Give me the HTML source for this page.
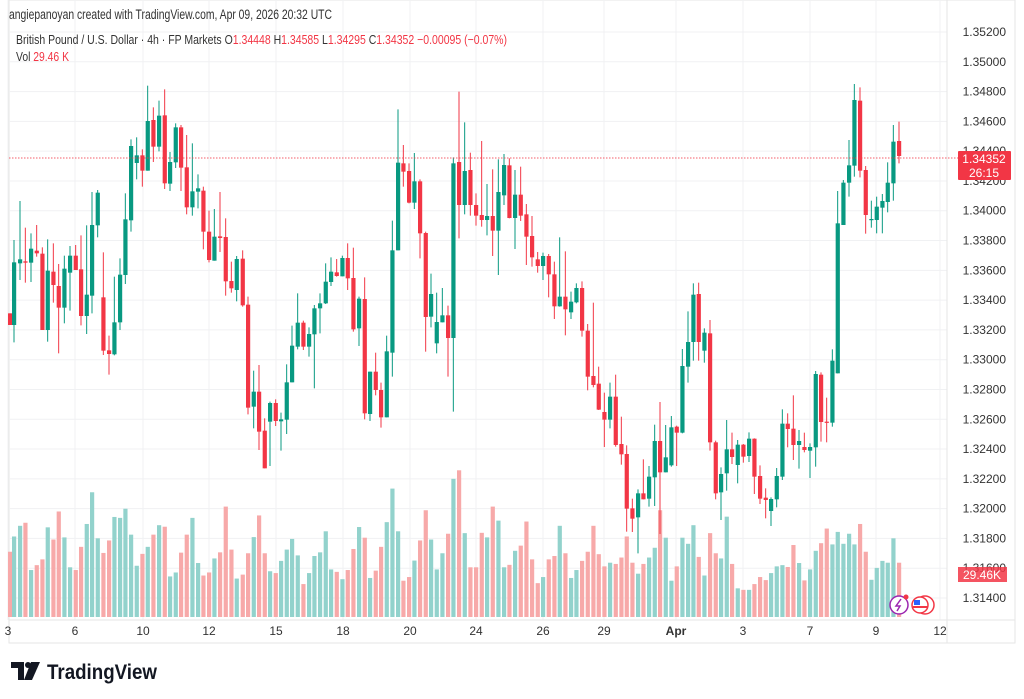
<!DOCTYPE html>
<html><head><meta charset="utf-8"><style>
html,body{margin:0;padding:0;background:#fff;width:1024px;height:699px;overflow:hidden;font-family:"Liberation Sans",sans-serif}
svg{position:absolute;left:0;top:0}
</style></head><body>
<svg id="s" width="1024" height="699" xmlns="http://www.w3.org/2000/svg" font-family="Liberation Sans, sans-serif">
<rect x="9" y="0" width="1006" height="643" fill="none" stroke="#e6e6e6"/>
<g id="grid"></g>
<g id="vol"></g>
<g id="cdl"></g>
<line x1="9" x2="958" y1="158" y2="158" stroke="#f23645" stroke-dasharray="1.5,1.5" stroke-width="1" opacity="0.8"/>
<g id="ax" font-size="12" fill="#333"></g>
<text x="9" y="19" font-size="13.5" fill="#333" textLength="323" lengthAdjust="spacingAndGlyphs">angiepanoyan created with TradingView.com, Apr 09, 2026 20:32 UTC</text>
<text x="16" y="44" font-size="13" fill="#333" textLength="491" lengthAdjust="spacingAndGlyphs">British Pound / U.S. Dollar · 4h · FP Markets  O<tspan fill="#f23645">1.34448</tspan>  H<tspan fill="#f23645">1.34585</tspan>  L<tspan fill="#f23645">1.34295</tspan>  C<tspan fill="#f23645">1.34352  −0.00095 (−0.07%)</tspan></text>
<text x="16" y="61" font-size="13" fill="#333" textLength="53" lengthAdjust="spacingAndGlyphs">Vol  <tspan fill="#f23645">29.46 K</tspan></text>
<rect x="958" y="151" width="53" height="29" fill="#f23645" rx="1"/>
<text x="984" y="163" font-size="12" fill="#fff" text-anchor="middle">1.34352</text>
<text x="984" y="177" font-size="12" fill="#fff" text-anchor="middle">26:15</text>
<rect x="958" y="567" width="49" height="15" fill="#f23645" opacity="0.85"/>
<text x="982" y="579" font-size="12" fill="#fff" text-anchor="middle">29.46K</text>
<circle cx="899" cy="605" r="9" fill="#fff" stroke="#9c27b0" stroke-width="1.5"/>
<path d="M901 599 L896 606 L900 606 L897 611" stroke="#9c27b0" fill="none" stroke-width="1.5"/>
<circle cx="906" cy="597" r="2.5" fill="#f23645"/>
<circle cx="925" cy="605" r="9" fill="#fff" stroke="#f23645" stroke-width="1.5"/>
<circle cx="920" cy="605" r="8" fill="#fff" stroke="#f23645" stroke-width="1.5"/>
<rect x="914" y="600" width="6" height="5" fill="#2962ff"/>
<line x1="913" x2="928" y1="607" y2="607" stroke="#f23645" stroke-width="2"/>
<g transform="translate(11,662)" fill="#131722">
<path d="M0 0 H13 V18 H7 V6 H0 Z"/><circle cx="17" cy="3" r="3"/><path d="M20 0 H29 L21 18 H13 Z"/>
</g>
<text x="47" y="679" font-size="21" font-weight="bold" fill="#131722" textLength="110" lengthAdjust="spacingAndGlyphs">TradingView</text>
</svg>
<script>
var NS="http://www.w3.org/2000/svg";
function el(p,t,a){var e=document.createElementNS(NS,t);for(var k in a)e.setAttribute(k,a[k]);document.getElementById(p).appendChild(e);return e;}
for(var i=0;i<=19;i++){var y=32+i*29.79;el("grid","line",{x1:9,x2:947,y1:y,y2:y,stroke:"#f0f1f3"});
 var p=(1.352-i*0.002).toFixed(5);var t=el("ax","text",{x:1006,y:y+4,"text-anchor":"end"});t.textContent=p;}
var tl=[[8,"3"],[75,"6"],[143,"10"],[209,"12"],[276,"15"],[343,"18"],[410,"20"],[476,"24"],[543,"26"],[604,"29"],[676,"Apr"],[743,"3"],[810,"7"],[876,"9"],[940,"12"]];
tl.forEach(function(a){el("grid","line",{x1:a[0],x2:a[0],y1:0,y2:620,stroke:"#f0f1f3"});var t=el("ax","text",{x:a[0],y:635,"text-anchor":"middle"});t.textContent=a[1];if(a[1]=="Apr")t.setAttribute("font-weight","bold");});
el("grid","line",{x1:947,x2:947,y1:0,y2:643,stroke:"#e6e6e6"});
el("grid","line",{x1:9,x2:1015,y1:620,y2:620,stroke:"#e6e6e6"});
var Z=[
[0,[[30,'r',700,735,700,735,1397],[42,'g',547,735,480,787,1347],[60,'g',538,550,363,600,1312],[76,'r',544,548,443,608,1302],[93,'g',506,548,460,606,1457],[110,'r',512,520,435,530,1441],[127,'r',521,750,502,750,1422],[143,'g',572,750,478,785,1317],[160,'r',575,615,490,668,1357],[176,'r',618,683,552,820,1265],[193,'g',566,683,527,730,1350],[210,'g',527,578,498,692,1448],[227,'r',527,570,495,570,1457],[243,'r',568,708,466,736,1381],[260,'g',644,708,436,762,1306],[276,'g',435,647,336,700,1202],[293,'g',338,436,330,472,1353],[310,'r',652,812,517,825,1401],[327,'r',811,822,767,884,1360],[343,'g',727,823,590,826,1283],[360,'g',584,727,535,750,1286],[376,'g',418,585,340,612,1256],[393,'g',198,421,178,455,1341],[410,'g',226,249,172,298,1443],[427,'r',226,272,208,320,1404],[443,'g',123,272,17,272,1381],[460,'r',120,200,82,246,1341],[477,'g',107,200,62,214,1310],[494,'r',106,310,28,327,1315],[510,'g',246,311,216,333,1478],[527,'g',142,247,130,264,1465],[543,'r',142,263,135,333,1400],[560,'r',262,382,165,403,1341],[577,'g',334,382,190,407,1286],[594,'g',325,335,283,385,1434],[610,'r',332,455,320,508,1475],[627,'r',455,540,392,547,1465],[643,'g',470,542,387,542,1419],[660,'r',469,474,336,516,1399],[677,'r',471,604,415,647,1249],[694,'r',603,625,545,638,1390],[710,'g',537,630,528,664,1485]]],
[230,[[38,'r',536,676,511,680,1472],[54,'r',674,983,650,1003,1402],[71,'g',935,980,872,1045,1349],[87,'r',935,1055,855,1110,1278],[104,'r',1052,1165,1015,1165,1402],[120,'g',969,1025,965,1158,1461],[137,'r',969,1023,958,1038,1467],[153,'g',1018,1024,998,1112,1427],[170,'g',907,1019,853,1062,1390],[186,'g',797,907,737,907,1355],[203,'g',728,800,640,808,1409],[220,'r',728,800,722,810,1503],[237,'g',762,800,742,830,1467],[253,'g',685,763,675,925,1411],[270,'g',670,685,640,760,1399],[287,'g',605,670,550,672,1330],[303,'g',575,606,532,618,1455],[320,'r',577,588,537,590,1463],[337,'g',534,589,527,589,1487],[353,'r',534,595,490,630,1457],[370,'r',594,748,503,755,1388],[387,'g',656,745,650,798,1316],[404,'r',657,1000,592,1018,1351],[420,'g',875,1002,875,1023,1483],[437,'r',875,930,818,946,1459],[453,'r',930,1012,908,1043,1381],[470,'g',814,1012,767,1012,1300],[487,'g',511,818,422,890,1190],[504,'g',248,511,88,511,1330],[520,'r',250,275,195,320,1492],[537,'r',273,368,250,370,1480],[553,'g',304,368,219,387,1426],[570,'r',304,460,298,535,1360],[587,'r',459,711,455,815,1261],[603,'g',642,710,581,742,1357],[620,'g',726,790,638,820,1455],[637,'g',706,727,624,727,1402],[654,'r',706,774,677,890,1338],[670,'g',250,774,232,995,1158],[687,'r',246,375,35,475,1130],[704,'g',273,375,127,403,1336]]],
[460,[[31,'r',270,375,218,407,1448],[48,'r',375,407,340,437,1448],[65,'r',405,420,183,440,1335],[81,'g',408,420,312,466,1350],[98,'r',408,452,268,528,1249],[115,'g',336,452,238,585,1295],[132,'g',255,346,222,375,1448],[148,'r',256,414,235,415,1440],[165,'g',344,414,270,507,1394],[182,'r',344,407,260,423,1377],[199,'r',403,470,372,555,1298],[216,'r',468,532,408,560,1422],[233,'r',538,558,516,578,1500],[249,'g',528,558,518,600,1480],[266,'r',528,583,522,652,1422],[283,'r',583,679,545,717,1411],[299,'g',650,679,472,680,1312],[316,'r',650,688,514,766,1402],[333,'g',665,697,635,717,1483],[349,'g',624,667,610,670,1457],[366,'r',624,752,604,770,1427],[383,'r',752,890,732,931,1397],[400,'r',888,915,668,922,1312],[416,'r',911,989,860,990,1405],[433,'r',996,1019,938,1101,1445],[450,'g',950,1019,908,1045,1433],[467,'r',950,1095,884,1100,1437],[484,'r',1092,1123,1010,1154,1416],[500,'r',1122,1286,1096,1355,1347],[517,'r',1285,1316,1256,1356,1433],[534,'g',1240,1312,1228,1420,1469],[550,'r',1240,1258,1138,1258,1437],[567,'g',1190,1256,1158,1280,1416],[584,'g',1083,1192,1034,1278,1384],[600,'r',1083,1177,966,1362,1261],[617,'g',1132,1177,1035,1177,1351],[634,'g',1042,1156,1008,1160,1492],[650,'r',1040,1058,1037,1158,1445],[667,'g',858,1058,807,1060,1351],[684,'g',786,860,694,908,1371],[700,'g',644,786,610,842,1310],[716,'r',642,786,608,842,1414]]],
[690,[[43,'g',758,812,745,848,1475],[60,'r',760,1087,720,1112,1336],[77,'r',1087,1240,1082,1258,1402],[93,'g',1182,1237,1162,1320,1419],[110,'g',1108,1180,1020,1232,1282],[126,'r',1108,1131,1058,1152,1437],[143,'g',1094,1155,1080,1210,1517],[160,'r',1094,1130,1092,1148,1522],[177,'g',1076,1128,1057,1146,1522],[193,'r',1076,1190,1075,1242,1503],[210,'r',1188,1256,1156,1272,1480],[227,'r',1253,1260,1225,1315,1490],[243,'g',1257,1293,1252,1338,1467],[260,'g',1188,1258,1164,1282,1445],[277,'g',1031,1190,988,1200,1441],[293,'r',1031,1047,1000,1102,1447],[310,'r',1046,1095,946,1140,1375],[327,'g',1083,1095,1050,1166,1434],[343,'r',1101,1110,1058,1117,1491],[360,'g',1101,1112,1090,1194,1455],[377,'g',882,1102,873,1160,1394],[393,'r',884,1026,877,1085,1369],[410,'r',1025,1027,953,1087,1321],[427,'g',842,1028,808,1040,1373],[443,'g',430,880,333,880,1332],[460,'g',308,435,300,435,1371],[477,'g',256,308,180,350,1338],[493,'g',60,257,12,290,1373],[510,'r',62,272,22,292,1306],[527,'r',270,405,258,461,1397],[544,'g',417,419,362,443,1489],[560,'g',380,420,350,460,1450],[577,'g',363,383,342,460,1427],[593,'g',308,366,247,397,1433],[610,'g',185,310,135,362,1353],[627,'r',183,228,125,250,1433]]]];
Z.forEach(function(g){var off=g[0];g[1].forEach(function(c){
 var x=off+c[0]/3,col=c[1]=='g'?'#089981':'#f23645',vc=c[1]=='g'?'#92d2cc':'#f7a9a9';
 var Y=function(z){return 80+z/3};
 var h=(617-Y(c[6]))*0.915; var vt=617-h;
 el("vol","rect",{x:x-2,y:vt,width:4.2,height:h,fill:vc});
 el("cdl","line",{x1:x,x2:x,y1:Y(c[4]),y2:Y(c[5]),stroke:col,"stroke-width":1});
 var t=Y(c[2]),b=Y(c[3]);if(b-t<1.2)b=t+1.2;
 el("cdl","rect",{x:x-2,y:t,width:4.2,height:b-t,fill:col});
});});
</script>
</body></html>
